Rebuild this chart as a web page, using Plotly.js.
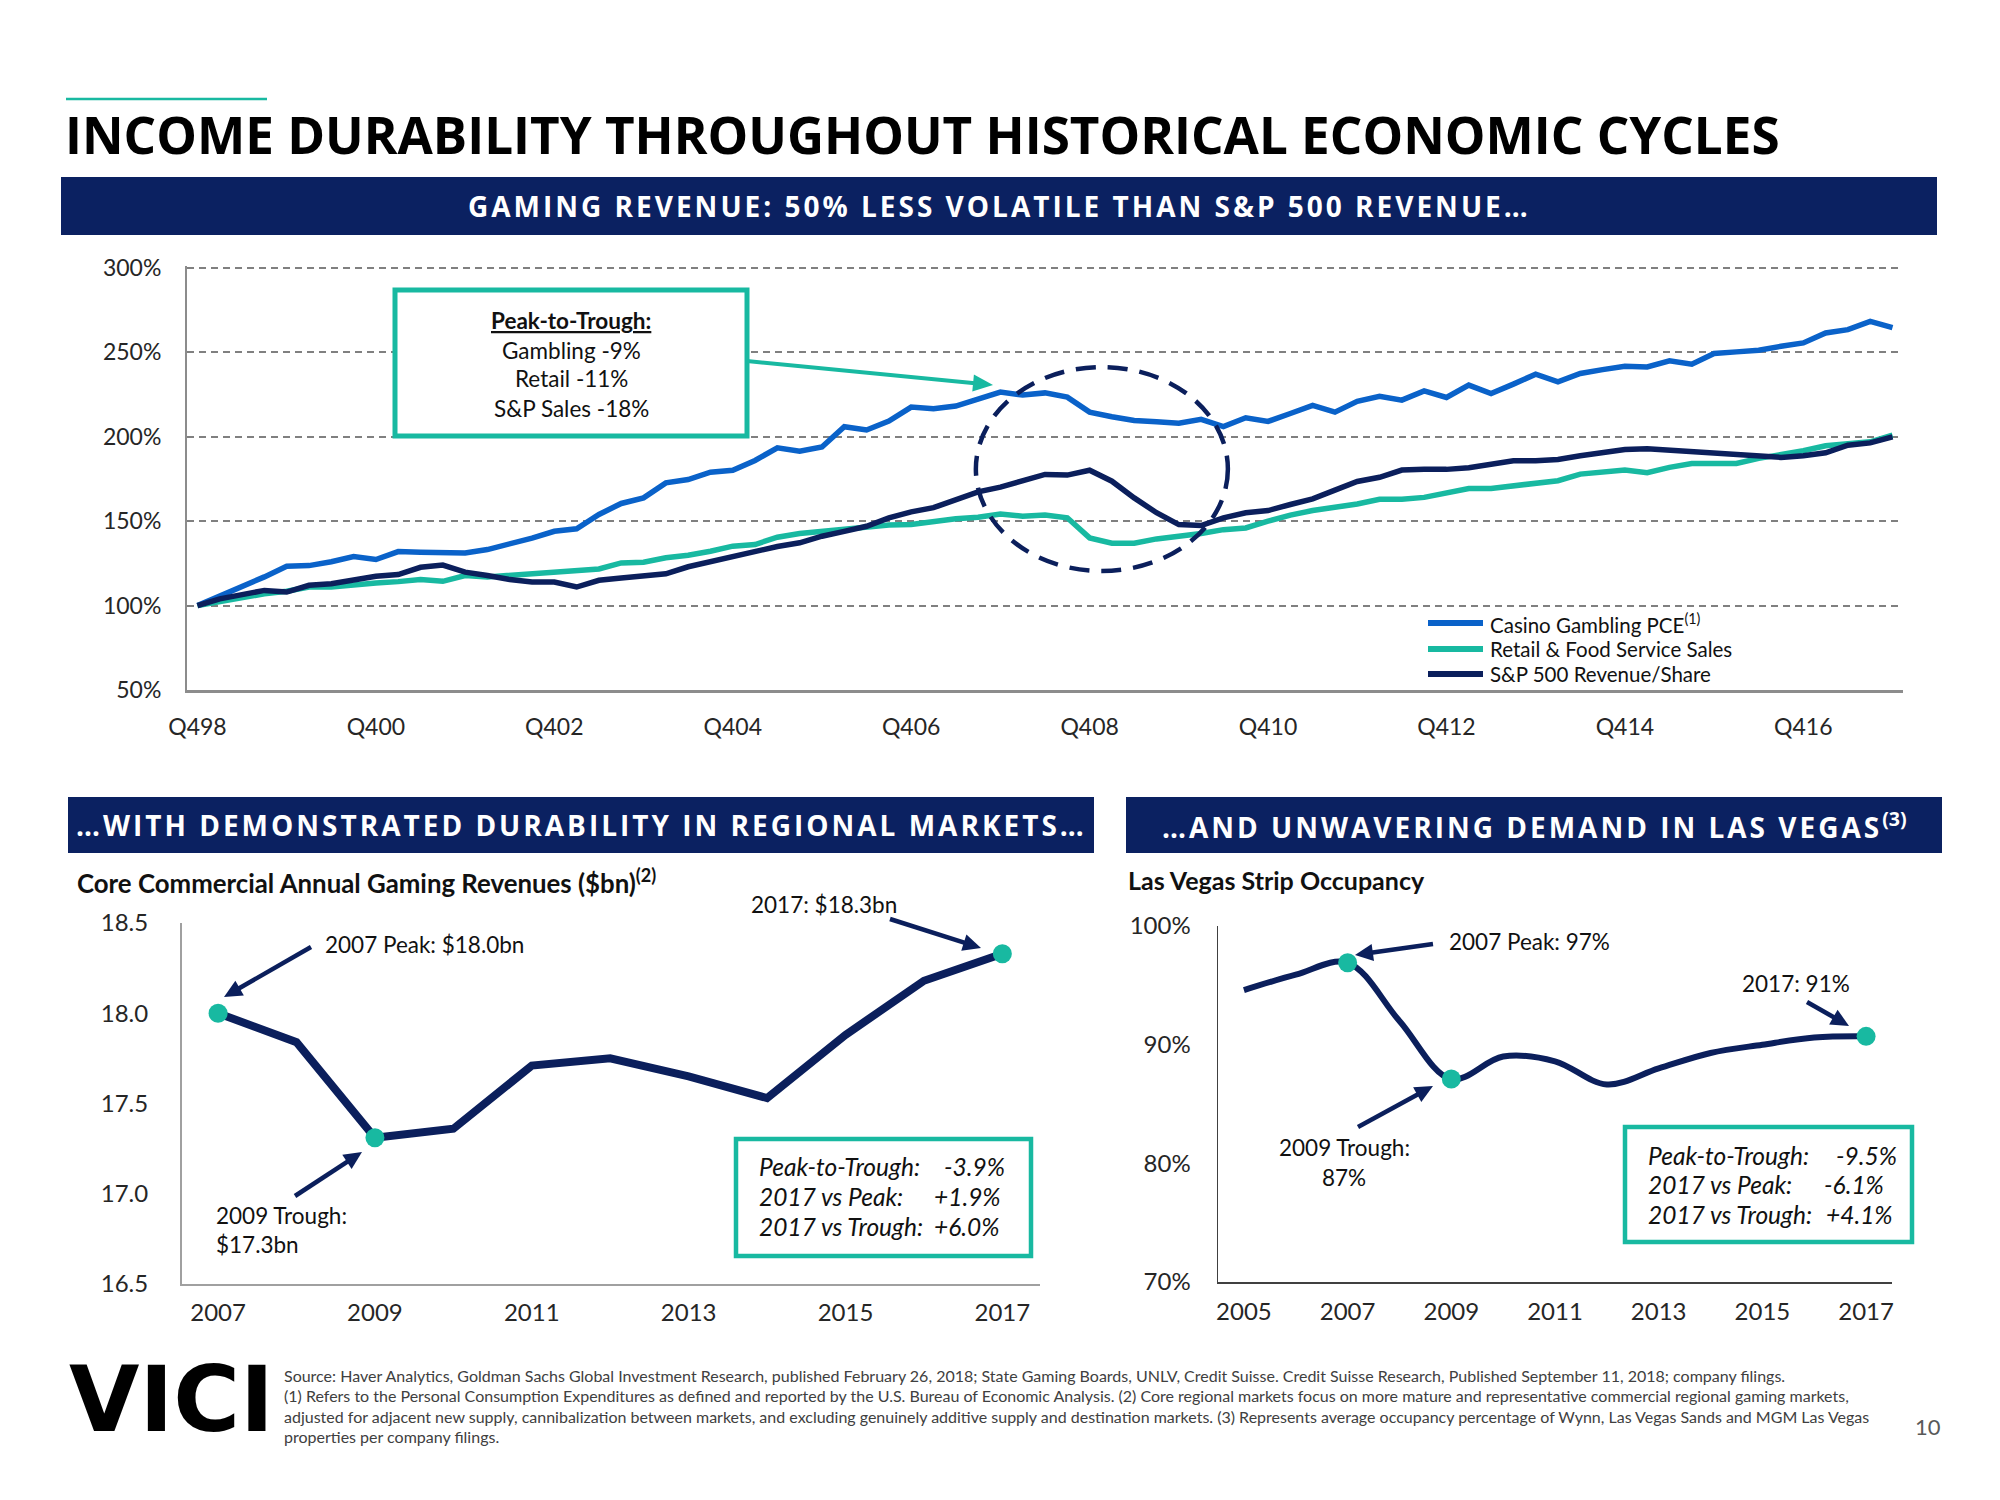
<!DOCTYPE html>
<html><head><meta charset="utf-8">
<script src="https://cdn.plot.ly/plotly-3.0.1.min.js"></script>
<style>html,body{margin:0;padding:0;background:#fff;} #chart{width:2000px;height:1500px;}</style>
</head><body><div id="chart"></div>
<script>
// ---------- DATA ----------
const quarters = [];
(function(){ quarters.push('Q498'); for (let y = 1999; y <= 2017; y++) { for (let q = 1; q <= 4; q++) { quarters.push('Q' + q + String(y).slice(2)); } } })();
const quarterTickLabels = ['Q498','Q400','Q402','Q404','Q406','Q408','Q410','Q412','Q414','Q416'];

const casinoGamblingPCE = [100,105.5,111.5,117,123.3,123.7,126,129,127.3,132,131.6,131.2,131.2,133.2,136.2,140,144,145.5,154,160.5,163.8,172.7,174.7,179,180.2,186,193.5,
  191.5,194,206,204,209.3,217.6,216.6,218.2,222.5,226.5,224.7,226,223.5,214.6,211.9,209.7,208.9,208,210.3,206,211.3,209.1,213.8,218.6,214.6,221,
  224,221.7,227.2,223.3,230.6,225.6,231.2,237.1,232.5,237.5,239.8,241.8,241.4,245,243,249.3,250.3,251.3,253.6,255.6,261.5,263.5,268.4,264.7];
const retailFoodServiceSales = [100,102.6,104.5,107,108.5,111,111,112.5,113.4,114.2,115.4,114.4,117.8,117,118,118.8,119.4,120.4,121.7,125.3,125.7,128.3,129.8,132.2,135.2,136.2,140.5,
  142.7,144,146,147,147.8,148,150,151.4,152.4,154.3,153,153.6,152,140.1,137,137,139.5,140.7,142.7,145,146,150,153.6,156.3,158,160.2,
  163,163,164.1,166.9,169.4,169.4,170.8,172.4,174,177.9,179.3,180.3,178.7,181.9,184.2,184.6,184.2,187.2,189.2,191.7,194.7,195.7,197,201];
const sp500RevenuePerShare = [100,104,106.5,109,108,112,113,115,117.4,118.4,122.7,124,119.8,117.8,115.4,114,114,111,115,116.4,118,118.8,123,126,129.2,131.6,135,
  137.2,141.1,144,147,152,155.5,158,162.5,167.4,170.2,174.3,177.7,177.3,180.2,173.7,163.8,155,148,147.4,152,155,156.3,159.9,163.2,168.4,173.5,
  176,180.3,180.7,180.7,181.7,183.8,185.8,185.8,186.6,188.8,190.7,192.5,192.9,192.1,191.1,190.5,189,188.6,187.8,188.8,190.5,195,196.4,200];
const seriesNames = ['Casino Gambling PCE', 'Retail &amp; Food Service Sales', 'S&amp;P 500 Revenue/Share'];
const topYTicks = [50,100,150,200,250,300];

const regionalYears = [2007,2008,2009,2010,2011,2012,2013,2014,2015,2016,2017];
const regionalRevenue = [18.0,17.84,17.31,17.36,17.71,17.75,17.65,17.53,17.88,18.18,18.33];
const regionalHighlight = [2007,2009,2017];
const regionalYTicks = [16.5,17.0,17.5,18.0,18.5];
const regionalXTicks = [2007,2009,2011,2013,2015,2017];

const lvYears = [2005,2006,2007,2008,2009,2010,2011,2012,2013,2014,2015,2016,2017];
const lvOccupancy = [94.6,95.9,96.9,92.0,87.1,89.0,88.6,86.65,88.0,89.3,90.0,90.6,90.7];
const lvHighlight = [2007,2009,2017];
const lvYTicks = [70,80,90,100];
const lvXTicks = [2005,2007,2009,2011,2013,2015,2017];

// ---------- STYLE ----------
const NAVY_BAND = '#0b2161', NAVY = '#0b1f5c', BLUE = '#0a62c9', TEAL = '#18b9a1';
const BODY = 'Lato, "Open Sans", sans-serif', HEAD = '"Open Sans", Lato, sans-serif';
const W = 2000, H = 1500;
const px = x => x / W, py = y => 1 - y / H;
const seriesColors = [BLUE, TEAL, NAVY];

const traces = [
  {x: quarters, y: casinoGamblingPCE, name: seriesNames[0], type: 'scatter', mode: 'lines', line: {color: BLUE, width: 5.5}, xaxis: 'x', yaxis: 'y', showlegend: false},
  {x: quarters, y: retailFoodServiceSales, name: seriesNames[1], type: 'scatter', mode: 'lines', line: {color: TEAL, width: 5.5}, xaxis: 'x', yaxis: 'y', showlegend: false},
  {x: quarters, y: sp500RevenuePerShare, name: seriesNames[2], type: 'scatter', mode: 'lines', line: {color: NAVY, width: 5.5}, xaxis: 'x', yaxis: 'y', showlegend: false},
  {x: regionalYears, y: regionalRevenue, type: 'scatter', mode: 'lines', line: {color: NAVY, width: 8}, showlegend: false, xaxis: 'x2', yaxis: 'y2'},
  {x: regionalHighlight, y: regionalHighlight.map(yr => regionalRevenue[regionalYears.indexOf(yr)]), type: 'scatter', mode: 'markers', marker: {color: TEAL, size: 19}, showlegend: false, xaxis: 'x2', yaxis: 'y2'},
  {x: lvYears, y: lvOccupancy, type: 'scatter', mode: 'lines', line: {color: NAVY, width: 6, shape: 'spline', smoothing: 1}, showlegend: false, xaxis: 'x3', yaxis: 'y3'},
  {x: lvHighlight, y: lvHighlight.map(yr => lvOccupancy[lvYears.indexOf(yr)]), type: 'scatter', mode: 'markers', marker: {color: TEAL, size: 19}, showlegend: false, xaxis: 'x3', yaxis: 'y3'}
];

const tickFont = {family: BODY, size: 23, color: '#262626'};
const tickFont2 = {family: BODY, size: 24, color: '#262626'};

function rect(x0, y0, x1, y1, opts) {
  return Object.assign({type: 'rect', xref: 'paper', yref: 'paper', x0: px(x0), x1: px(x1), y0: py(y1), y1: py(y0), layer: 'above'}, opts);
}
function arrowShapes(tx, ty, sx, sy, color, w, hl, hw) {
  const dx = tx - sx, dy = ty - sy, L = Math.hypot(dx, dy), ux = dx / L, uy = dy / L;
  const bx = tx - ux * hl, by = ty - uy * hl, nx = -uy, ny = ux;
  const P = (x, y) => px(x) + ',' + py(y);
  return [
    {type: 'line', xref: 'paper', yref: 'paper', x0: px(sx), y0: py(sy), x1: px(bx + ux * 2), y1: py(by + uy * 2), line: {color: color, width: w}, layer: 'above'},
    {type: 'path', xref: 'paper', yref: 'paper', path: 'M' + P(tx, ty) + 'L' + P(bx + nx * hw / 2, by + ny * hw / 2) + 'L' + P(bx - nx * hw / 2, by - ny * hw / 2) + 'Z',
     fillcolor: color, line: {width: 0}, layer: 'above'}
  ];
}
const shapes = [
  {type: 'line', xref: 'paper', yref: 'paper', x0: px(66), x1: px(267), y0: py(99), y1: py(99), line: {color: TEAL, width: 2.5}},
  rect(61, 177, 1937, 235, {fillcolor: NAVY_BAND, line: {width: 0}}),
  rect(68, 797, 1094, 853, {fillcolor: NAVY_BAND, line: {width: 0}}),
  rect(1126, 797, 1942, 853, {fillcolor: NAVY_BAND, line: {width: 0}}),
  rect(395, 290, 747, 436, {fillcolor: '#ffffff', line: {color: TEAL, width: 5}}),
  rect(736, 1139, 1031, 1256, {fillcolor: '#ffffff', line: {color: TEAL, width: 4.5}}),
  rect(1625, 1127, 1912, 1242, {fillcolor: '#ffffff', line: {color: TEAL, width: 4.5}}),
  {type: 'circle', xref: 'x', yref: 'y', x0: 34.9, x1: 46.2, y0: 120.5, y1: 241.3, layer: 'above', line: {color: NAVY, width: 4.5, dash: '20px,12px'}}
].concat(
  arrowShapes(993, 385, 747, 361, TEAL, 4, 20, 17),
  arrowShapes(224, 997, 311, 947, NAVY, 4.5, 18, 17),
  arrowShapes(362, 1152, 295, 1196, NAVY, 4.5, 18, 17),
  arrowShapes(981, 948, 890, 919, NAVY, 4.5, 18, 17),
  arrowShapes(1355, 955, 1433, 944, NAVY, 4.5, 18, 17),
  arrowShapes(1849, 1026, 1807, 1002, NAVY, 4.5, 18, 17),
  arrowShapes(1433, 1086, 1358, 1127, NAVY, 4.5, 18, 17)
);
// legend keys
const legendY = [623, 649, 674];
seriesColors.forEach((c, i) => shapes.push({type: 'line', xref: 'paper', yref: 'paper', x0: px(1428), x1: px(1483), y0: py(legendY[i]), y1: py(legendY[i]), line: {color: c, width: 6}}));

function txt(text, x, y, opts) {
  return Object.assign({xref: 'paper', yref: 'paper', x: px(x), y: py(y), text: text, showarrow: false, xanchor: 'left', yanchor: 'middle', font: {family: BODY, size: 22.5, color: '#111111'}}, opts);
}
const white = {family: HEAD, size: 28, color: '#ffffff'};
const ls = s => '<span style="letter-spacing:3px">' + s + '</span>';
const footFont = {family: BODY, size: 16, color: '#404040'};
const boxFont = {family: BODY, size: 24.5, color: '#111111'};

const annotations = [
  txt('<b>INCOME DURABILITY THROUGHOUT HISTORICAL ECONOMIC CYCLES</b>', 63, 134, {font: {family: HEAD, size: 51.2, color: '#000000'}}),
  txt('<b>' + ls('GAMING REVENUE: 50% LESS VOLATILE THAN S&amp;P 500 REVENUE…') + '</b>', 999, 206, {xanchor: 'center', font: white}),
  txt('<b>' + ls('…WITH DEMONSTRATED DURABILITY IN REGIONAL MARKETS…') + '</b>', 581, 825, {xanchor: 'center', font: white}),
  txt('<b>' + ls('…AND UNWAVERING DEMAND IN LAS VEGAS') + '<sup>(3)</sup></b>', 1534, 825, {xanchor: 'center', font: white}),
  // top box
  txt('<b><u>Peak-to-Trough:</u></b>', 571, 320, {xanchor: 'center'}),
  txt('Gambling -9%', 571, 350, {xanchor: 'center'}),
  txt('Retail -11%', 571, 379, {xanchor: 'center'}),
  txt('S&amp;P Sales -18%', 571, 409, {xanchor: 'center'}),
  // legend labels
  txt(seriesNames[0] + '<sup>(1)</sup>', 1488, legendY[0], {font: {family: BODY, size: 20.5, color: '#111111'}}),
  txt(seriesNames[1], 1488, legendY[1], {font: {family: BODY, size: 20.5, color: '#111111'}}),
  txt(seriesNames[2], 1488, legendY[2], {font: {family: BODY, size: 20.5, color: '#111111'}}),
  // subtitles
  txt('<b>Core Commercial Annual Gaming Revenues ($bn)<sup>(2)</sup></b>', 75, 881, {font: {family: BODY, size: 25.8, color: '#111111'}}),
  txt('<b>Las Vegas Strip Occupancy</b>', 1126, 880, {font: {family: BODY, size: 25, color: '#111111'}}),
  // left chart
  txt('2007 Peak: $18.0bn', 323, 944),
  txt('2009 Trough:', 214, 1215),
  txt('$17.3bn', 214, 1244),
  txt('2017: $18.3bn', 824, 904, {xanchor: 'center'}),
  txt('<i>Peak-to-Trough:</i>', 757, 1166, {font: boxFont}),
  txt('<i>-3.9%</i>', 942, 1166, {font: boxFont}),
  txt('<i>2017 vs Peak:</i>', 757, 1196, {font: boxFont}),
  txt('<i>+1.9%</i>', 932, 1196, {font: boxFont}),
  txt('<i>2017 vs Trough:</i>', 757, 1226, {font: boxFont}),
  txt('<i>+6.0%</i>', 932, 1226, {font: boxFont}),
  // right chart
  txt('2007 Peak: 97%', 1447, 941),
  txt('2017: 91%', 1796, 983, {xanchor: 'center'}),
  txt('2009 Trough:', 1344, 1147, {xanchor: 'center'}),
  txt('87%', 1344, 1177, {xanchor: 'center'}),
  txt('<i>Peak-to-Trough:</i>', 1646, 1155, {font: boxFont}),
  txt('<i>-9.5%</i>', 1834, 1155, {font: boxFont}),
  txt('<i>2017 vs Peak:</i>', 1646, 1184, {font: boxFont}),
  txt('<i>-6.1%</i>', 1822, 1184, {font: boxFont}),
  txt('<i>2017 vs Trough:</i>', 1646, 1214, {font: boxFont}),
  txt('<i>+4.1%</i>', 1824, 1214, {font: boxFont}),
  // footer
  txt('<b>VICI</b>', 67, 1399, {font: {family: '"DejaVu Sans", sans-serif', size: 91, color: '#000000'}}),
  txt('Source: Haver Analytics, Goldman Sachs Global Investment Research, published February 26, 2018; State Gaming Boards, UNLV, Credit Suisse. Credit Suisse Research, Published September 11, 2018; company filings.', 282, 1375, {font: footFont}),
  txt('(1) Refers to the Personal Consumption Expenditures as defined and reported by the U.S. Bureau of Economic Analysis. (2) Core regional markets focus on more mature and representative commercial regional gaming markets,', 282, 1395.5, {font: footFont}),
  txt('adjusted for adjacent new supply, cannibalization between markets, and excluding genuinely additive supply and destination markets. (3) Represents average occupancy percentage of Wynn, Las Vegas Sands and MGM Las Vegas', 282, 1416, {font: footFont}),
  txt('properties per company filings.', 282, 1436, {font: footFont}),
  txt('10', 1928, 1426, {xanchor: 'center', font: {family: BODY, size: 22, color: '#595959'}})
];

const layout = {
  width: W, height: H,
  margin: {l: 0, r: 0, t: 0, b: 0, pad: 0},
  paper_bgcolor: '#ffffff', plot_bgcolor: 'rgba(0,0,0,0)',
  font: {family: BODY, color: '#262626'},
  showlegend: false,
  xaxis: {domain: [px(187), px(1903)], anchor: 'y', type: 'category', range: [-0.47, 76.47], tickmode: 'array', tickvals: quarterTickLabels, ticktext: quarterTickLabels,
          showgrid: false, showline: true, linecolor: '#8c8c8c', linewidth: 3, ticks: '', tickfont: tickFont, ticklabelstandoff: 14, zeroline: false},
  yaxis: {domain: [py(690), py(266.3)], anchor: 'x', range: [50, 301], tickmode: 'array', tickvals: topYTicks, ticktext: topYTicks.map(v => v + '%'),
          showgrid: true, gridcolor: '#808080', gridwidth: 2, griddash: '7px,5px', showline: true, linecolor: '#8c8c8c', linewidth: 2,
          ticks: '', tickfont: tickFont, ticklabelstandoff: 19, zeroline: false},
  xaxis2: {domain: [px(182), px(1040)], anchor: 'y2', range: [2006.54, 2017.48], tickmode: 'array', tickvals: regionalXTicks, ticktext: regionalXTicks.map(String), showgrid: false,
           showline: true, linecolor: '#a0a0a0', linewidth: 2, ticks: '', tickfont: tickFont2, ticklabelstandoff: 6, zeroline: false},
  yaxis2: {domain: [py(1284), py(923)], anchor: 'x2', range: [16.5, 18.5], tickmode: 'array', tickvals: regionalYTicks, ticktext: regionalYTicks.map(v => v.toFixed(1)), showgrid: false,
           showline: true, linecolor: '#a0a0a0', linewidth: 2, ticks: '', tickfont: tickFont2, ticklabelstandoff: 27, zeroline: false},
  xaxis3: {domain: [px(1218), px(1892)], anchor: 'y3', range: [2004.5, 2017.5], tickmode: 'array', tickvals: lvXTicks, ticktext: lvXTicks.map(String), showgrid: false,
           showline: true, linecolor: '#404040', linewidth: 1.5, ticks: '', tickfont: tickFont2, ticklabelstandoff: 8, zeroline: false},
  yaxis3: {domain: [py(1282), py(926)], anchor: 'x3', range: [70, 100], tickmode: 'array', tickvals: lvYTicks, ticktext: lvYTicks.map(v => v + '%'), showgrid: false,
           showline: true, linecolor: '#404040', linewidth: 1.5, ticks: '', tickfont: tickFont2, ticklabelstandoff: 21, zeroline: false},
  shapes: shapes,
  annotations: annotations
};

Plotly.newPlot('chart', traces, layout, {staticPlot: true, displayModeBar: false}).then(() => {
  // drop empty placeholder text nodes (unused axis titles)
  document.querySelectorAll('#chart text').forEach(t => { if (!t.textContent.trim()) t.remove(); });
});
</script>
</body></html>
